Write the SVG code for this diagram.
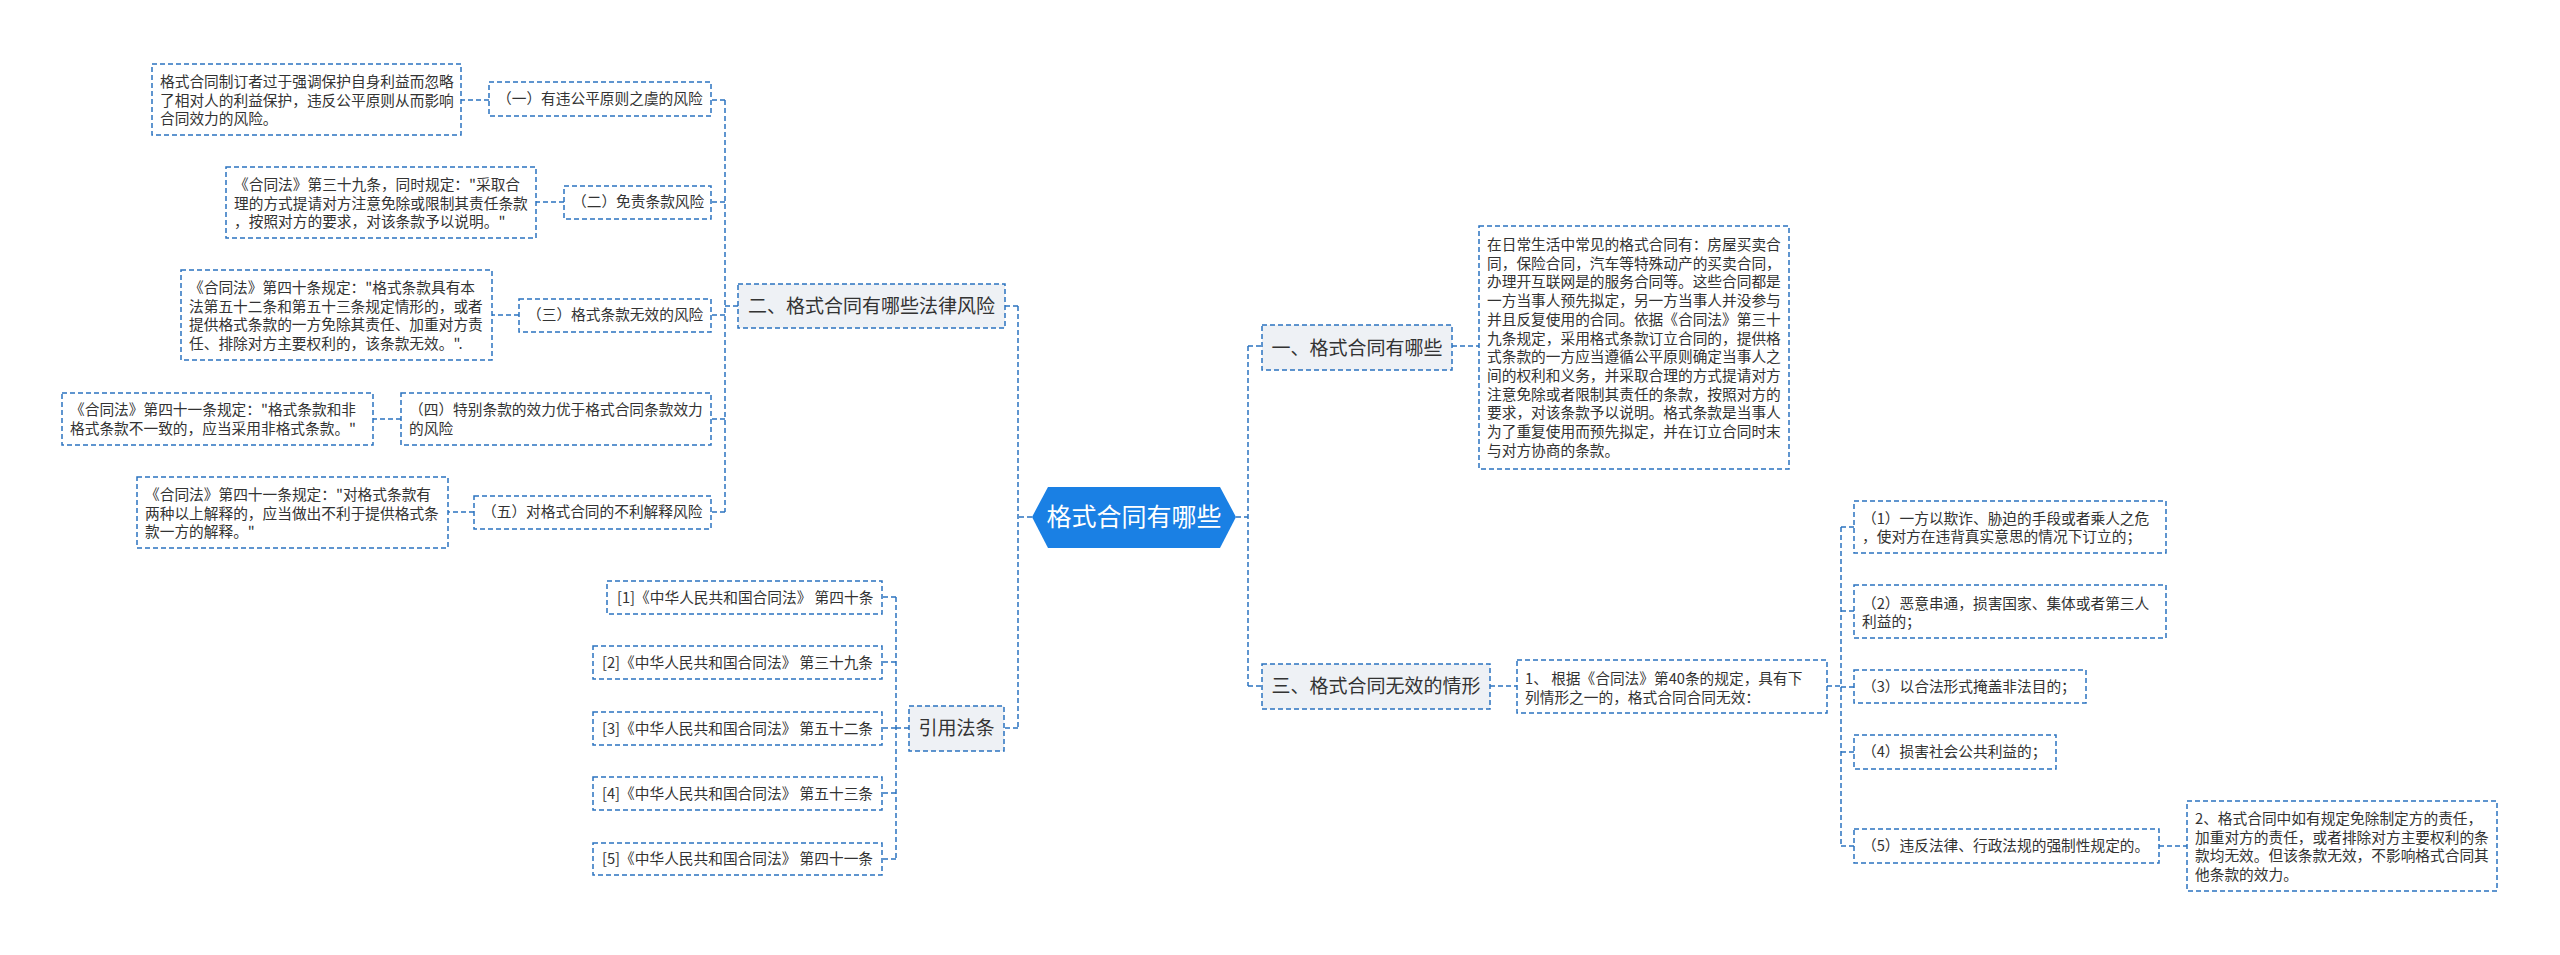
<svg xmlns="http://www.w3.org/2000/svg" width="2560" height="955" viewBox="0 0 2560 955">
<style>
text{font-family:"Noto Sans CJK SC","Microsoft YaHei",sans-serif;fill:#333333}
.box{fill:#ffffff;stroke:#2b73c0;stroke-width:1.5;stroke-dasharray:5 3}
.br{fill:#eef1f5;stroke:#2b73c0;stroke-width:1.5;stroke-dasharray:5 3}
.t{font-size:14.7px}
.tb{font-size:19px}
.lk{fill:none;stroke:#2b73c0;stroke-width:1.5;stroke-dasharray:5 3}
</style>
<rect x="0" y="0" width="2560" height="955" fill="#ffffff"/>
<g id="connectors">
<path class="lk" d="M1032,517 H1018 M1018,306 V728 M1018,306 H1005 M1018,728 H1004"/>
<path class="lk" d="M738,306 H725 M725,100 V512 M725,100 H711 M725,202 H711 M725,315 H711 M725,419 H711 M725,512 H711"/>
<path class="lk" d="M489,100 H461 M564,202 H536 M519,315 H492 M401,419 H373 M474,512 H448"/>
<path class="lk" d="M909,728 H896 M896,597 V859 M896,597 H882 M896,662 H882 M896,728 H882 M896,793 H882 M896,859 H882"/>
<path class="lk" d="M1236,517 H1248 M1248,346 V686 M1248,346 H1262 M1248,686 H1262 M1452,346 H1479 M1490,686 H1517"/>
<path class="lk" d="M1827,686 H1841 M1841,527 V846 M1841,527 H1854 M1841,611 H1854 M1841,687 H1854 M1841,752 H1854 M1841,846 H1854 M2159,846 H2187"/>
</g>
<g id="root">
<polygon points="1032,517 1048,487 1220,487 1236,517 1220,548 1048,548" fill="#1a80e4"/>
<text x="1134" y="526" font-size="25" text-anchor="middle" style="fill:#ffffff">格式合同有哪些</text>
</g>
<g id="branch2">
<rect class="br" x="738" y="284" width="267" height="44"/>
<text class="tb" x="871.5" y="313" text-anchor="middle">二、格式合同有哪些法律风险</text>
</g>
<g id="n1">
<rect class="box" x="489" y="82" width="222" height="34"/>
<text class="t" x="497" y="104">（一）有违公平原则之虞的风险</text>
</g>
<g id="l1">
<rect class="box" x="152" y="64" width="309" height="71"/>
<text class="t" x="160"><tspan x="160" y="87">格式合同制订者过于强调保护自身利益而忽略</tspan><tspan x="160" y="105.7">了相对人的利益保护，违反公平原则从而影响</tspan><tspan x="160" y="124.4">合同效力的风险。</tspan></text>
</g>
<g id="n2">
<rect class="box" x="564" y="186" width="147" height="33"/>
<text class="t" x="572" y="207">（二）免责条款风险</text>
</g>
<g id="l2">
<rect class="box" x="226" y="167" width="310" height="71"/>
<text class="t"><tspan x="234" y="190">《合同法》第三十九条，同时规定："采取合</tspan><tspan x="234" y="208.7">理的方式提请对方注意免除或限制其责任条款</tspan><tspan x="234" y="227.4">，按照对方的要求，对该条款予以说明。"</tspan></text>
</g>
<g id="n3">
<rect class="box" x="519" y="299" width="192" height="33"/>
<text class="t" x="527" y="320">（三）格式条款无效的风险</text>
</g>
<g id="l3">
<rect class="box" x="181" y="270" width="311" height="90"/>
<text class="t"><tspan x="189" y="293">《合同法》第四十条规定："格式条款具有本</tspan><tspan x="189" y="311.7">法第五十二条和第五十三条规定情形的，或者</tspan><tspan x="189" y="330.4">提供格式条款的一方免除其责任、加重对方责</tspan><tspan x="189" y="349.1">任、排除对方主要权利的，该条款无效。".</tspan></text>
</g>
<g id="n4">
<rect class="box" x="401" y="393" width="310" height="52"/>
<text class="t"><tspan x="409" y="415">（四）特别条款的效力优于格式合同条款效力</tspan><tspan x="409" y="433.7">的风险</tspan></text>
</g>
<g id="l4">
<rect class="box" x="62" y="393" width="311" height="52"/>
<text class="t"><tspan x="70" y="415">《合同法》第四十一条规定："格式条款和非</tspan><tspan x="70" y="433.7">格式条款不一致的，应当采用非格式条款。"</tspan></text>
</g>
<g id="n5">
<rect class="box" x="474" y="496" width="237" height="33"/>
<text class="t" x="482" y="517">（五）对格式合同的不利解释风险</text>
</g>
<g id="l5">
<rect class="box" x="137" y="477" width="311" height="71"/>
<text class="t"><tspan x="145" y="500">《合同法》第四十一条规定："对格式条款有</tspan><tspan x="145" y="518.7">两种以上解释的，应当做出不利于提供格式条</tspan><tspan x="145" y="537.4">款一方的解释。"</tspan></text>
</g>
<g id="cite">
<rect class="br" x="909" y="706" width="95" height="45"/>
<text class="tb" x="956.5" y="735" text-anchor="middle">引用法条</text>
</g>
<g id="c1">
<rect class="box" x="607" y="581" width="275" height="33"/>
<text class="t" x="617" y="602.5">[1]《中华人民共和国合同法》 第四十条</text>
</g>
<g id="c2">
<rect class="box" x="593" y="646" width="289" height="33"/>
<text class="t" x="602" y="667.5">[2]《中华人民共和国合同法》 第三十九条</text>
</g>
<g id="c3">
<rect class="box" x="593" y="712" width="289" height="33"/>
<text class="t" x="602" y="733.5">[3]《中华人民共和国合同法》 第五十二条</text>
</g>
<g id="c4">
<rect class="box" x="593" y="777" width="289" height="33"/>
<text class="t" x="602" y="798.5">[4]《中华人民共和国合同法》 第五十三条</text>
</g>
<g id="c5">
<rect class="box" x="593" y="843" width="289" height="32"/>
<text class="t" x="602" y="864">[5]《中华人民共和国合同法》 第四十一条</text>
</g>
<g id="branch1">
<rect class="br" x="1262" y="325" width="190" height="45"/>
<text class="tb" x="1357" y="354.5" text-anchor="middle">一、格式合同有哪些</text>
</g>
<g id="d1">
<rect class="box" x="1479" y="226" width="310" height="243"/>
<text class="t"><tspan x="1487" y="250">在日常生活中常见的格式合同有：房屋买卖合</tspan><tspan x="1487" y="268.7">同，保险合同，汽车等特殊动产的买卖合同，</tspan><tspan x="1487" y="287.4">办理开互联网是的服务合同等。这些合同都是</tspan><tspan x="1487" y="306.1">一方当事人预先拟定，另一方当事人并没参与</tspan><tspan x="1487" y="324.8">并且反复使用的合同。依据《合同法》第三十</tspan><tspan x="1487" y="343.5">九条规定，采用格式条款订立合同的，提供格</tspan><tspan x="1487" y="362.2">式条款的一方应当遵循公平原则确定当事人之</tspan><tspan x="1487" y="380.9">间的权利和义务，并采取合理的方式提请对方</tspan><tspan x="1487" y="399.6">注意免除或者限制其责任的条款，按照对方的</tspan><tspan x="1487" y="418.3">要求，对该条款予以说明。格式条款是当事人</tspan><tspan x="1487" y="437">为了重复使用而预先拟定，并在订立合同时末</tspan><tspan x="1487" y="455.7">与对方协商的条款。</tspan></text>
</g>
<g id="branch3">
<rect class="br" x="1262" y="664" width="228" height="45"/>
<text class="tb" x="1376" y="693" text-anchor="middle">三、格式合同无效的情形</text>
</g>
<g id="r1">
<rect class="box" x="1517" y="660" width="310" height="53"/>
<text class="t"><tspan x="1525" y="684">1、 根据《合同法》第40条的规定，具有下</tspan><tspan x="1525" y="702.7">列情形之一的，格式合同合同无效：</tspan></text>
</g>
<g id="s1">
<rect class="box" x="1854" y="501" width="312" height="52"/>
<text class="t"><tspan x="1862" y="523.5">（1）一方以欺诈、胁迫的手段或者乘人之危</tspan><tspan x="1862" y="542.2">，使对方在违背真实意思的情况下订立的；</tspan></text>
</g>
<g id="s2">
<rect class="box" x="1854" y="585" width="312" height="53"/>
<text class="t"><tspan x="1862" y="608.5">（2）恶意串通，损害国家、集体或者第三人</tspan><tspan x="1862" y="627.2">利益的；</tspan></text>
</g>
<g id="s3">
<rect class="box" x="1854" y="670" width="232" height="33"/>
<text class="t" x="1862" y="691.5">（3）以合法形式掩盖非法目的；</text>
</g>
<g id="s4">
<rect class="box" x="1854" y="735" width="202" height="34"/>
<text class="t" x="1862" y="757">（4）损害社会公共利益的；</text>
</g>
<g id="s5">
<rect class="box" x="1854" y="829" width="305" height="34"/>
<text class="t" x="1862" y="851">（5）违反法律、行政法规的强制性规定的。</text>
</g>
<g id="f1">
<rect class="box" x="2187" y="801" width="310" height="90"/>
<text class="t"><tspan x="2195" y="824">2、格式合同中如有规定免除制定方的责任，</tspan><tspan x="2195" y="842.7">加重对方的责任，或者排除对方主要权利的条</tspan><tspan x="2195" y="861.4">款均无效。但该条款无效，不影响格式合同其</tspan><tspan x="2195" y="880.1">他条款的效力。</tspan></text>
</g>
</svg>
